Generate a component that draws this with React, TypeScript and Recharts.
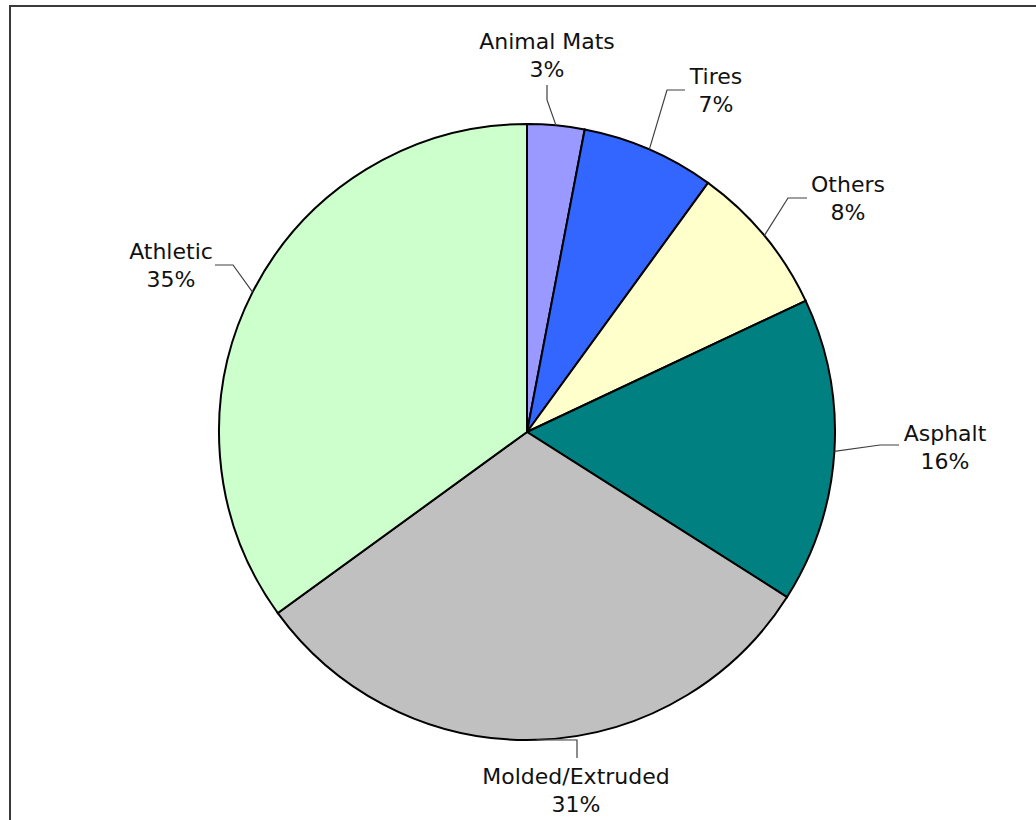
import { PieChart, Pie, Cell } from 'recharts';

const categories = ['Animal Mats', 'Tires', 'Others', 'Asphalt', 'Molded/Extruded', 'Athletic'];
const shares = [3, 7, 8, 16, 31, 35];
const sliceColors = ['#9999FF', '#3366FF', '#FFFFCC', '#008080', '#C0C0C0', '#CCFFCC'];

// label placement relative to pie centre: text = first line centre, elbow/end = leader line points
const labelLayout = [
    { text: [20, -391], elbow: [20, -332], end: [20, -347] },
    { text: [189, -356], elbow: [140, -342], end: [158, -342] },
    { text: [321, -248], elbow: [261, -234], end: [280, -234] },
    { text: [418, 1], elbow: [353, 13], end: [372, 13] },
    { text: [49, 344], elbow: [50, 308], end: [50, 326] },
    { text: [-356, -181], elbow: [-294, -167], end: [-312, -167] },
];

const data = categories.map((name, i) => ({ name, value: shares[i] }));

const RADIAN = Math.PI / 180;

const renderLabel = (props: any) => {
    const { cx, cy, midAngle, outerRadius, index } = props;
    const layout = labelLayout[index];
    const sx = cx + outerRadius * Math.cos(-midAngle * RADIAN);
    const sy = cy + outerRadius * Math.sin(-midAngle * RADIAN);
    const ex = cx + layout.elbow[0];
    const ey = cy + layout.elbow[1];
    const tx = cx + layout.end[0];
    const ty = cy + layout.end[1];
    const lx = cx + layout.text[0];
    const ly = cy + layout.text[1];
    return (
        <g key={`lbl-${index}`}>
            <polyline
                points={`${sx},${sy} ${ex},${ey} ${tx},${ty}`}
                fill="none"
                stroke="#404040"
                strokeWidth={1.2}
            />
            <text x={lx} y={ly} textAnchor="middle" dominantBaseline="central" fill="#111" fontSize={22}>
                {categories[index]}
            </text>
            <text x={lx} y={ly + 28} textAnchor="middle" dominantBaseline="central" fill="#111" fontSize={22}>
                {shares[index]}%
            </text>
        </g>
    );
};

export default function App() {
    return (
        <div style={{ position: 'absolute', left: 0, top: 0, width: 1036, height: 820, overflow: 'hidden', background: '#fff', fontFamily: '"DejaVu Sans", Verdana, sans-serif' }}>
            <div
                style={{
                    position: 'absolute',
                    left: 9,
                    top: 5,
                    width: 1100,
                    height: 900,
                    borderTop: '2px solid #3a3a3a',
                    borderLeft: '2px solid #3a3a3a',
                }}
            />
            <div style={{ position: 'absolute', left: 0, top: 0 }}>
                <PieChart width={1036} height={820} margin={{ top: 0, right: 0, bottom: 0, left: 0 }}>
                    <Pie
                        data={data}
                        dataKey="value"
                        nameKey="name"
                        cx={527}
                        cy={432}
                        outerRadius={308}
                        startAngle={90}
                        endAngle={-270}
                        stroke="#000"
                        strokeWidth={2}
                        label={renderLabel}
                        labelLine={false}
                        isAnimationActive={false}
                    >
                        {data.map((d, i) => (
                            <Cell key={d.name} fill={sliceColors[i]} />
                        ))}
                    </Pie>
                </PieChart>
            </div>
        </div>
    );
}
